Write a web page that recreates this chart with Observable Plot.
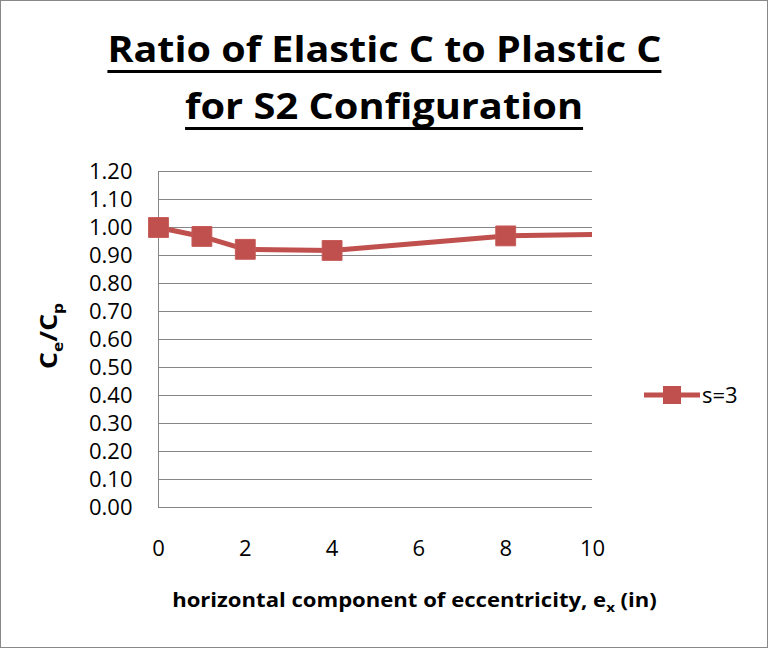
<!DOCTYPE html>
<html>
<head>
<meta charset="utf-8">
<script src="https://cdn.jsdelivr.net/npm/d3@7"></script>
<script src="https://cdn.jsdelivr.net/npm/@observablehq/plot@0.6"></script>
<style>
  html, body { margin: 0; padding: 0; background: #fff; }
  #wrap { position: relative; width: 768px; height: 648px; overflow: hidden; font-family: "Open Sans", sans-serif; }
  #frame { position: absolute; left: 0; top: 0; width: 768px; height: 648px; box-sizing: border-box; border: 1px solid #888; pointer-events: none; }
  #title { height: 150px; box-sizing: border-box; padding-top: 20px; text-align: center; font-weight: 700; font-size: 36px; line-height: 57px; color: #000; }
  #title span { display: inline-block; text-decoration: underline; text-decoration-thickness: 3px; text-underline-offset: 8px; text-decoration-skip-ink: none; transform-origin: center; white-space: nowrap; }
  #chart svg { display: block; }
</style>
</head>
<body>
<div id="wrap">
  <div id="title"></div>
  <div id="chart"></div>
  <div id="frame"></div>
</div>
<script>
// ---- data ----
const titleLines = ["Ratio of Elastic C to Plastic C", "for S2 Configuration"];
const seriesName = "s=3";
const ex = [0, 1, 2, 4, 8, 12];
const ratio = [1.00, 0.968, 0.922, 0.918, 0.970, 0.980];
const xTicks = [0, 2, 4, 6, 8, 10];
const yTicks = [0, 0.1, 0.2, 0.3, 0.4, 0.5, 0.6, 0.7, 0.8, 0.9, 1.0, 1.1, 1.2];
const xDomain = [0, 10];
const yDomain = [0, 1.2];

const data = ex.map((x, i) => ({x, y: ratio[i], s: seriesName}));
const red = "#C0504D";
const grid = "#868686";

// ---- title ----
const titleTargets = [554, 398];
const tdiv = document.getElementById("title");
titleLines.forEach((t, i) => {
  const s = document.createElement("span");
  s.textContent = t;
  tdiv.appendChild(s);
  if (i < titleLines.length - 1) tdiv.appendChild(document.createElement("br"));
});
tdiv.querySelectorAll("span").forEach((s, i) => {
  const w = s.getBoundingClientRect().width;
  s.style.transform = `scaleX(${titleTargets[i] / w})`;
});

// ---- chart ----
const chart = Plot.plot({
  width: 768,
  height: 498,
  marginTop: 21,
  marginLeft: 158,
  marginRight: 176,
  marginBottom: 141,
  style: {fontFamily: "Open Sans", fontSize: "22px", color: "#000", background: "transparent"},
  x: {domain: xDomain},
  y: {domain: yDomain},
  marks: [
    Plot.gridY(yTicks, {stroke: grid, strokeOpacity: 1, strokeWidth: 1}),
    Plot.ruleX([xDomain[0]], {stroke: grid, strokeWidth: 1}),
    Plot.axisY(yTicks, {tickSize: 0, tickPadding: 26, tickFormat: d3.format(".2f"), fontSize: 22, label: null}),
    Plot.axisX(xTicks, {tickSize: 0, tickPadding: 33, fontSize: 22, label: null}),
    Plot.line(data, {x: "x", y: "y", stroke: red, strokeWidth: 5, clip: true, strokeLinejoin: "round", strokeLinecap: "butt"}),
    Plot.dot(data.filter(d => d.x <= xDomain[1]), {x: "x", y: "y", symbol: "square", r: 11.2, fill: red, stroke: "#c65a57", strokeWidth: 1})
  ]
});
document.getElementById("chart").appendChild(chart);

// ---- axis titles and legend ----
const svg = d3.select(chart);
function fitX(sel, cx, target) {
  const w = sel.node().getComputedTextLength();
  sel.attr("transform", `translate(${cx},0) scale(${target / w},1) translate(${-cx},0)`);
}
// x axis title
const xt = svg.append("text")
  .attr("x", 414.5).attr("y", 457)
  .attr("text-anchor", "middle")
  .attr("font-family", "Open Sans").attr("font-weight", 700).attr("font-size", 19)
  .attr("fill", "#000");
xt.append("tspan").text("horizontal component of eccentricity, e");
xt.append("tspan").attr("font-size", 13).attr("dy", 5).text("x");
xt.append("tspan").attr("dy", -5).text(" (in)");
fitX(xt, 414.5, 485);

// y axis title
const ytg = svg.append("g").attr("transform", "translate(57,186) rotate(-90)");
const yt = ytg.append("text")
  .attr("x", 0).attr("y", 0)
  .attr("text-anchor", "middle")
  .attr("font-family", "Open Sans").attr("font-weight", 700).attr("font-size", 23)
  .attr("fill", "#000");
yt.append("tspan").text("C");
yt.append("tspan").attr("font-size", 15).attr("dy", 6).text("e");
yt.append("tspan").attr("dy", -6).text("/C");
yt.append("tspan").attr("font-size", 15).attr("dy", 6).text("p");
fitX(yt, 0, 66);

// legend
const lg = svg.append("g").attr("transform", "translate(0,245)");
lg.append("line").attr("x1", 644).attr("x2", 700).attr("y1", 0).attr("y2", 0)
  .attr("stroke", red).attr("stroke-width", 5);
lg.append("rect").attr("x", 663).attr("y", -9).attr("width", 18).attr("height", 18)
  .attr("fill", red);
lg.append("text").attr("x", 702).attr("y", 0).attr("dy", "0.35em")
  .attr("text-anchor", "start")
  .attr("font-family", "Open Sans").attr("font-size", 22).attr("fill", "#000")
  .text(seriesName);
</script>
</body>
</html>
